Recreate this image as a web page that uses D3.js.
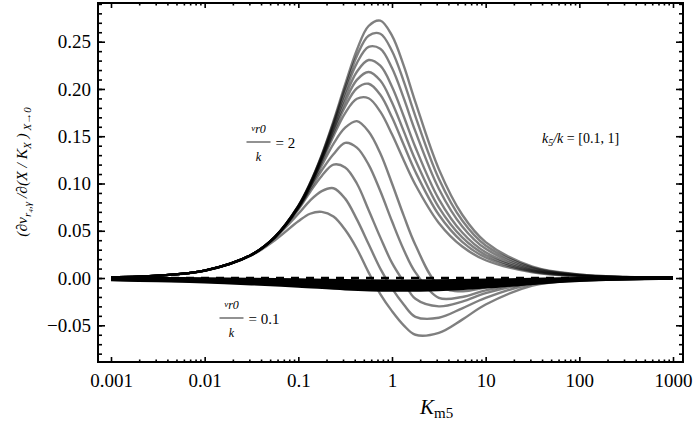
<!DOCTYPE html>
<html><head><meta charset="utf-8">
<script src="https://cdn.jsdelivr.net/npm/d3@7"></script>
<style>body{margin:0;background:#fff} svg{display:block}</style>
</head><body>
<svg id="chart" width="693" height="429"></svg>
<script>
// sample positions (K_m5) for the v_r0/k = 2 family
const xSamples = [0.001,0.00316,0.01,0.0316,0.0562,0.1,0.1334,0.1778,0.2371,0.3162,0.4217,0.5623,0.7499,1,1.334,1.778,3.162,5.623,10,31.62,100,316.2,1000];
// v_r0/k = 2 curves, k5/k from 1 (top) down to 0.1 (bottom)
const curve1  = [0.0008,0.0025,0.0078,0.0246,0.0436,0.0764,0.1004,0.1303,0.1659,0.2048,0.2413,0.2666,0.2723,0.2565,0.2247,0.1861,0.1152,0.0669,0.0380,0.0121,0.0038,0.0012,0.0004];
const curve2  = [0.0008,0.0025,0.0078,0.0246,0.0435,0.0763,0.1000,0.1295,0.1642,0.2014,0.2350,0.2564,0.2584,0.2402,0.2081,0.1711,0.1051,0.0609,0.0345,0.0110,0.0035,0.0011,0.0003];
const curve3  = [0.0008,0.0025,0.0078,0.0246,0.0435,0.0761,0.0996,0.1285,0.1621,0.1971,0.2274,0.2445,0.2425,0.2221,0.1903,0.1551,0.0945,0.0546,0.0309,0.0098,0.0031,0.0010,0.0003];
const curve4  = [0.0008,0.0025,0.0078,0.0246,0.0434,0.0758,0.0990,0.1272,0.1594,0.1919,0.2182,0.2306,0.2246,0.2024,0.1712,0.1384,0.0835,0.0481,0.0272,0.0086,0.0027,0.0009,0.0003];
const curve5  = [0.0008,0.0025,0.0078,0.0246,0.0434,0.0756,0.0984,0.1259,0.1567,0.1868,0.2096,0.2180,0.2089,0.1857,0.1554,0.1248,0.0747,0.0429,0.0243,0.0077,0.0024,0.0008,0.0002];
const curve6  = [0.0008,0.0025,0.0078,0.0246,0.0433,0.0753,0.0978,0.1246,0.1539,0.1815,0.2008,0.2055,0.1939,0.1700,0.1409,0.1124,0.0669,0.0383,0.0217,0.0069,0.0022,0.0007,0.0002];
const curve7  = [0.0008,0.0025,0.0078,0.0246,0.0433,0.0749,0.0969,0.1227,0.1501,0.1745,0.1896,0.1902,0.1760,0.1520,0.1246,0.0987,0.0583,0.0333,0.0188,0.0060,0.0019,0.0006,0.0002];
const curve8  = [0.0008,0.0025,0.0078,0.0246,0.0433,0.0745,0.0960,0.1190,0.1420,0.1590,0.1660,0.1550,0.1320,0.1000,0.0660,0.0350,-0.0080,-0.0140,-0.0100,-0.0030,-0.0010,-0.0003,0.0000];
const curve9  = [0.0008,0.0025,0.0078,0.0245,0.0432,0.0738,0.0940,0.1140,0.1310,0.1430,0.1380,0.1200,0.0920,0.0600,0.0300,0.0060,-0.0210,-0.0200,-0.0130,-0.0040,-0.0010,-0.0003,0.0000];
const curve10 = [0.0008,0.0025,0.0078,0.0245,0.0430,0.0725,0.0910,0.1080,0.1200,0.1170,0.1000,0.0720,0.0430,0.0160,-0.0040,-0.0220,-0.0300,-0.0250,-0.0160,-0.0050,-0.0012,-0.0003,0.0000];
const curve11 = [0.0008,0.0025,0.0078,0.0244,0.0425,0.0680,0.0820,0.0920,0.0950,0.0840,0.0620,0.0360,0.0100,-0.0110,-0.0280,-0.0410,-0.0420,-0.0320,-0.0210,-0.0060,-0.0015,-0.0004,0.0000];
const curve12 = [0.0008,0.0025,0.0077,0.0240,0.0400,0.0600,0.0680,0.0700,0.0650,0.0510,0.0310,0.0060,-0.0170,-0.0350,-0.0500,-0.0600,-0.0580,-0.0440,-0.0280,-0.0080,-0.0020,-0.0005,0.0000];

// v_r0/k = 0.1 family (black band just below zero)
const xSamplesLow = [0.001,0.00316,0.01,0.0316,0.1,0.3162,1,3.162,10,31.62,100,316.2,1000];
const low1 = [-0.0005,-0.0007,-0.0010,-0.0015,-0.0020,-0.0028,-0.0034,-0.0032,-0.0024,-0.0014,-0.0006,-0.0002,0];
const low2 = [-0.0008,-0.0012,-0.0018,-0.0027,-0.0038,-0.0052,-0.0060,-0.0057,-0.0044,-0.0026,-0.0011,-0.0004,-0.0001];
const low3 = [-0.0011,-0.0017,-0.0026,-0.0039,-0.0055,-0.0075,-0.0086,-0.0082,-0.0063,-0.0037,-0.0016,-0.0005,-0.0001];
const low4 = [-0.0014,-0.0022,-0.0033,-0.0050,-0.0070,-0.0095,-0.0108,-0.0103,-0.0080,-0.0047,-0.0020,-0.0007,-0.0001];
const low5 = [-0.0017,-0.0027,-0.0040,-0.0060,-0.0084,-0.0113,-0.0127,-0.0121,-0.0094,-0.0055,-0.0024,-0.0008,-0.0001];

// reference line y = 0
const zeroLineX = [0.001, 1000];
const zeroLineY = [0, 0];

// ticks
const xTickValues = [0.001,0.01,0.1,1,10,100,1000];
const xTickLabels = ["0.001","0.01","0.1","1","10","100","1000"];
const yTickValues = [-0.05,0,0.05,0.10,0.15,0.20,0.25];
const yTickLabels = ["\u22120.05","0.00","0.05","0.10","0.15","0.20","0.25"];

const highFamily = [curve1,curve2,curve3,curve4,curve5,curve6,curve7,curve8,curve9,curve10,curve11,curve12];
const lowFamily = [low1,low2,low3,low4,low5];

const svg = d3.select("#chart");
const box = {left:98, top:3, right:683, bottom:362};
const x = d3.scaleLog().domain([0.001,1000]).range([111,673]);
const y = d3.scaleLinear().domain([-0.05,0.25]).range([325.3,41.7]);
const font = "'Liberation Serif', 'Times New Roman', serif";

svg.append("clipPath").attr("id","clip").append("rect")
  .attr("x",box.left).attr("y",box.top).attr("width",box.right-box.left).attr("height",box.bottom-box.top);

const plot = svg.append("g").attr("clip-path","url(#clip)");
const line = d3.line().curve(d3.curveCatmullRom.alpha(0.5));

highFamily.forEach(vals => {
  plot.append("path")
    .attr("d", line(vals.map((v,i)=>[x(xSamples[i]), y(v)])))
    .attr("fill","none").attr("stroke","#000").attr("stroke-opacity",0.5)
    .attr("stroke-width",2.4);
});
lowFamily.forEach(vals => {
  plot.append("path")
    .attr("d", line(vals.map((v,i)=>[x(xSamplesLow[i]), y(v)])))
    .attr("fill","none").attr("stroke","#000")
    .attr("stroke-width",3.4);
});
plot.append("path")
  .attr("d", d3.line()(zeroLineX.map((v,i)=>[x(v), y(zeroLineY[i])])))
  .attr("fill","none").attr("stroke","#000").attr("stroke-width",2.6)
  .attr("stroke-dasharray","8,7");

// minor ticks
const xMinor = [];
for (let e=-3;e<3;e++) for (let m=2;m<10;m++) xMinor.push(m*Math.pow(10,e));
const yMinor = d3.range(-8,30).map(d=>d/100);

function styleAxis(g){ g.select(".domain").remove(); g.selectAll("line").attr("stroke","#000").attr("stroke-width",1.6); }

svg.append("g").attr("transform",`translate(0,${box.bottom})`)
  .call(d3.axisBottom(x).tickValues(xMinor).tickSize(-2.5).tickFormat("")).call(styleAxis);
svg.append("g").attr("transform",`translate(0,${box.top})`)
  .call(d3.axisTop(x).tickValues(xMinor).tickSize(-2.5).tickFormat("")).call(styleAxis);
svg.append("g").attr("transform",`translate(0,${box.bottom})`)
  .call(d3.axisBottom(x).tickValues(xTickValues).tickSize(-5).tickPadding(12)
    .tickFormat((d,i)=>xTickLabels[i])).call(styleAxis);
svg.append("g").attr("transform",`translate(0,${box.top})`)
  .call(d3.axisTop(x).tickValues(xTickValues).tickSize(-5).tickFormat("")).call(styleAxis);

svg.append("g").attr("transform",`translate(${box.left},0)`)
  .call(d3.axisLeft(y).tickValues(yMinor).tickSize(-4).tickFormat("")).call(styleAxis);
svg.append("g").attr("transform",`translate(${box.right},0)`)
  .call(d3.axisRight(y).tickValues(yMinor).tickSize(-4).tickFormat("")).call(styleAxis);
svg.append("g").attr("transform",`translate(${box.left},0)`)
  .call(d3.axisLeft(y).tickValues(yTickValues).tickSize(-7).tickPadding(7)
    .tickFormat((d,i)=>yTickLabels[i])).call(styleAxis);
svg.append("g").attr("transform",`translate(${box.right},0)`)
  .call(d3.axisRight(y).tickValues(yTickValues).tickSize(-7).tickFormat("")).call(styleAxis);

svg.selectAll(".tick text").attr("font-family",font).attr("font-size",19).attr("fill","#000");

svg.append("rect").attr("x",box.left).attr("y",box.top)
  .attr("width",box.right-box.left).attr("height",box.bottom-box.top)
  .attr("fill","none").attr("stroke","#000").attr("stroke-width",2);

// x-axis title
const xt = svg.append("text").attr("x",420).attr("y",414).attr("font-family",font).attr("font-size",21);
xt.append("tspan").attr("font-style","italic").text("K");
xt.append("tspan").attr("font-size",15).attr("dy",4).text("m5");

// y-axis title
const yt = svg.append("text").attr("transform","translate(27,172) rotate(-90)")
  .attr("text-anchor","middle").attr("font-family",font).attr("font-size",15.5).attr("font-style","italic");
yt.append("tspan").text("(\u2202v");
yt.append("tspan").attr("font-size",11).attr("dy",4).text("r\u2084,\u03B3");
yt.append("tspan").attr("dy",-4).text(" /\u2202(X / K");
yt.append("tspan").attr("font-size",11).attr("dy",4).text("X");
yt.append("tspan").attr("dy",-4).text(" )");
yt.append("tspan").attr("font-size",11).attr("dy",4).text(" X\u21920");

// annotations
function fraction(xc, yLine, rhs){
  const num = svg.append("text").attr("x",xc).attr("y",yLine-9).attr("text-anchor","middle")
    .attr("font-family",font).attr("font-style","italic");
  num.append("tspan").attr("font-size",9).attr("dy",-2).text("v");
  num.append("tspan").attr("font-size",12).attr("dy",2).text("r0");
  svg.append("line").attr("x1",xc-12).attr("x2",xc+12).attr("y1",yLine).attr("y2",yLine)
    .attr("stroke","#777").attr("stroke-width",1.6);
  svg.append("text").attr("x",xc).attr("y",yLine+19).attr("text-anchor","middle")
    .attr("font-family",font).attr("font-style","italic").attr("font-size",12).text("k");
  svg.append("text").attr("x",xc+17).attr("y",yLine+6).attr("font-family",font)
    .attr("font-size",15).text(rhs);
}
fraction(258.5, 142, "= 2");
fraction(231.5, 318, "= 0.1");

const kt = svg.append("text").attr("x",542).attr("y",143).attr("font-family",font).attr("font-size",14);
kt.append("tspan").attr("font-style","italic").text("k");
kt.append("tspan").attr("font-size",10).attr("dy",3).attr("font-style","italic").text("5");
kt.append("tspan").attr("dy",-3).attr("font-style","italic").text("/k");
kt.append("tspan").text(" = [0.1, 1]");
</script>
</body></html>
